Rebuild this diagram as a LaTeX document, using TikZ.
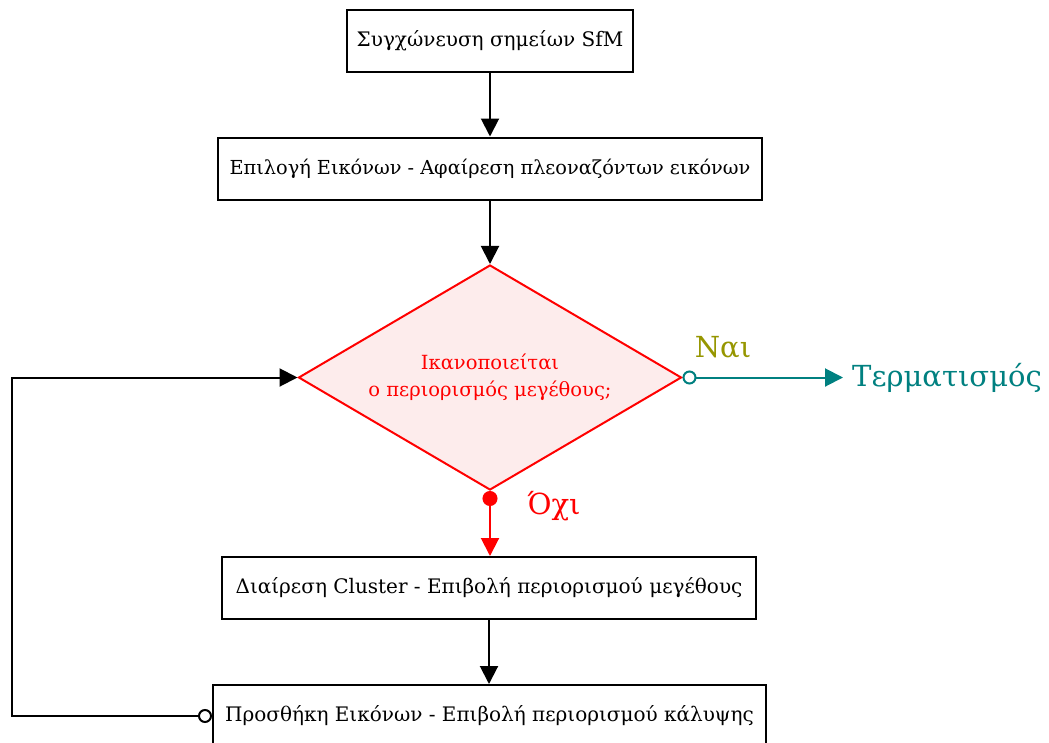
\documentclass[tikz,border=0pt]{standalone}
\usepackage{fontspec}
\setmainfont{DejaVu Serif}
\usetikzlibrary{shapes.geometric,arrows.meta}
\definecolor{tealc}{RGB}{0,128,128}
\definecolor{olivec}{RGB}{150,150,0}
\definecolor{pinkfill}{RGB}{253,236,236}
\tikzset{
  stepbox/.style={draw=black,line width=2pt,fill=white,minimum height=62pt,
    inner xsep=10pt,font=\fontsize{20}{24}\selectfont},
  flow/.style={line width=2pt,-{Triangle[length=18pt,width=18pt]}},
  decide/.style={diamond,draw=red,line width=2pt,fill=pinkfill,text=red,
    minimum width=383pt,minimum height=225pt,aspect=1.7,inner sep=0pt,
    align=center,font=\fontsize{19.5}{27}\selectfont},
  biglabel/.style={font=\fontsize{29}{33}\selectfont,inner sep=0pt}
}
\begin{document}
\begin{tikzpicture}[x=1pt,y=-1pt]
\useasboundingbox (0,0) rectangle (1049,742);
\node[stepbox,minimum width=282pt] (merge) at (490,40.5) {Συγχώνευση σημείων SfM};
\node[stepbox,minimum width=544pt,font=\fontsize{19.3}{24}\selectfont] (select) at (490,168.5) {Επιλογή Εικόνων - Αφαίρεση πλεοναζόντων εικόνων};
\node[decide] (check) at (490,377.5) {Ικανοποιείται\\ο περιορισμός μεγέθους;};
\node[stepbox,minimum width=534pt] (split) at (489,588) {Διαίρεση Cluster - Επιβολή περιορισμού μεγέθους};
\node[stepbox,minimum width=553pt] (expand) at (489.5,716) {Προσθήκη Εικόνων - Επιβολή περιορισμού κάλυψης};
\node[biglabel,text=tealc,anchor=west] (stop) at (852,377.5) {Τερματισμός};
\node[biglabel,text=olivec] (yes) at (723,347) {Ναι};
\node[biglabel,text=red] (no) at (554,506) {Όχι};
\coordinate (loopx) at (12,716);

\draw[flow] (merge) -- (select);
\draw[flow] (select) -- (check);
\draw[flow,red,{Circle[length=15pt,fill=red]}-{Triangle[length=18pt,width=18pt]}] (check.south) -- (check.south |- split.north);
\draw[flow,tealc,shorten >=9pt,{Circle[open,length=14pt,fill=white]}-{Triangle[length=18pt,width=18pt]}] (check.east) -- (stop.west);
\draw[flow,{Circle[open,length=14pt,fill=white]}-{Triangle[length=18pt,width=18pt]}] (expand.west) -- (expand.west -| loopx) |- (check.west);
\draw[flow] (split.south) -- (split.south |- expand.north);
\end{tikzpicture}
\end{document}
